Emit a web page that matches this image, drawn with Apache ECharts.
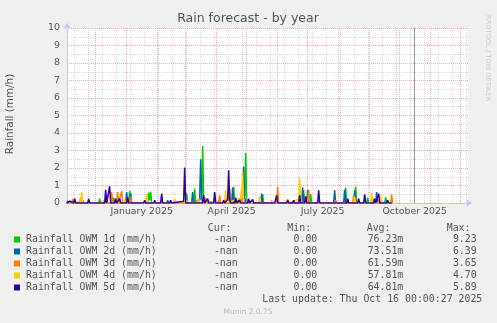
<!DOCTYPE html>
<html><head><meta charset="utf-8">
<script src="https://cdn.jsdelivr.net/npm/echarts@6/dist/echarts.min.js"></script>
<style>html,body{margin:0;padding:0;background:#f0f0f0}#c{width:497px;height:323px}</style>
</head><body><div id="c"></div>
<script>
const chartTitle = "Rain forecast - by year";
const yTitle = "Rainfall (mm/h)";
const seriesNames = ["Rainfall OWM 1d (mm/h)","Rainfall OWM 2d (mm/h)","Rainfall OWM 3d (mm/h)","Rainfall OWM 4d (mm/h)","Rainfall OWM 5d (mm/h)"];
const seriesColors = ["#00CC00","#0066B3","#FF8000","#FFCC00","#330099"];
const xRange = ["2024-11-02 08:00","2025-12-08 08:00"];
const monthStarts = ["2024-12-01","2025-01-01","2025-02-01","2025-03-01","2025-04-01","2025-05-01","2025-06-01","2025-07-01","2025-08-01","2025-09-01","2025-10-01","2025-11-01","2025-12-01"];
const minorStart = "2024-11-10";
const xLabelDates = ["2025-01-16","2025-04-16","2025-07-16","2025-10-16"];
const xLabels = ["January 2025","April 2025","July 2025","October 2025"];
const nowDate = "2025-10-16";
const legendHeaders = ["Cur:","Min:","Avg:","Max:"];
const legendCur = ["-nan","-nan","-nan","-nan","-nan"];
const legendMin = ["0.00","0.00","0.00","0.00","0.00"];
const legendAvg = ["76.23m","73.51m","61.59m","57.81m","64.81m"];
const legendMax = ["9.23","6.39","3.65","4.70","5.89"];
const lastUpdate = "Last update: Thu Oct 16 00:00:27 2025";
const footer = "Munin 2.0.75";
const sideText = "RRDTOOL / TOBI OETIKER";

const rain1d = [["2024-11-02",0.1],["2024-11-04",0],["2024-11-17",0],["2024-11-18",0.15],["2024-11-19",0],["2024-12-04",0],["2024-12-05",0.25],["2024-12-06",0],["2024-12-18",0],["2024-12-19",0.3],["2024-12-20",0],["2025-01-03",0],["2025-01-04",0.7],["2025-01-05",0.2],["2025-01-06",0],["2025-01-22",0],["2025-01-23",0.6],["2025-01-24",0.15],["2025-01-25",0.65],["2025-01-26",0],["2025-02-09",0],["2025-02-10",0.1],["2025-02-11",0],["2025-03-01",0],["2025-03-02",0.55],["2025-03-03",0],["2025-03-09",0],["2025-03-10",0.82],["2025-03-11",0],["2025-03-17",0.3],["2025-03-18",3.25],["2025-03-19",0.1],["2025-03-20",0],["2025-04-02",0],["2025-04-03",0.15],["2025-04-04",0],["2025-04-17",0],["2025-04-18",0.92],["2025-04-19",0],["2025-04-29",0.4],["2025-04-30",2.85],["2025-05-01",0.2],["2025-05-02",0],["2025-05-16",0],["2025-05-17",0.5],["2025-05-18",0],["2025-06-10",0],["2025-06-11",0.2],["2025-06-12",0],["2025-06-26",0],["2025-06-27",0.73],["2025-06-28",0],["2025-07-03",0],["2025-07-04",0.5],["2025-07-05",0],["2025-08-07",0],["2025-08-08",0.88],["2025-08-09",0],["2025-08-17",0],["2025-08-18",0.92],["2025-08-19",0],["2025-08-29",0],["2025-08-30",0.3],["2025-08-31",0],["2025-09-16",0],["2025-09-17",0.34],["2025-09-18",0],["2025-09-23",0]];
const rain2d = [["2024-11-02",0],["2024-11-14",0],["2024-11-15",0.1],["2024-11-16",0],["2024-12-11",0],["2024-12-12",0.4],["2024-12-13",0],["2024-12-31",0],["2025-01-01",0.63],["2025-01-02",0],["2025-01-04",0],["2025-01-05",0.55],["2025-01-06",0],["2025-02-10",0],["2025-02-11",0.15],["2025-02-12",0],["2025-02-21",0],["2025-02-22",0.1],["2025-02-23",0],["2025-03-07",0],["2025-03-08",0.63],["2025-03-09",0],["2025-03-15",0.2],["2025-03-16",2.5],["2025-03-17",0.3],["2025-03-18",0],["2025-04-16",0],["2025-04-17",0.88],["2025-04-18",0],["2025-04-27",0.2],["2025-04-28",2.07],["2025-04-29",0.3],["2025-04-30",0],["2025-05-15",0],["2025-05-16",0.54],["2025-05-17",0],["2025-06-25",0],["2025-06-26",0.88],["2025-06-27",0],["2025-06-30",0],["2025-07-01",0.76],["2025-07-02",0],["2025-07-19",0],["2025-07-20",0.1],["2025-07-21",0],["2025-07-27",0],["2025-07-28",0.73],["2025-07-29",0],["2025-08-06",0],["2025-08-07",0.76],["2025-08-08",0],["2025-08-16",0],["2025-08-17",0.73],["2025-08-18",0],["2025-09-07",0],["2025-09-08",0.63],["2025-09-09",0],["2025-09-23",0]];
const rain3d = [["2024-11-02",0],["2024-11-07",0],["2024-11-08",0.25],["2024-11-09",0],["2024-11-15",0],["2024-11-16",0.3],["2024-11-17",0],["2024-12-16",0],["2024-12-17",0.63],["2024-12-18",0],["2024-12-22",0],["2024-12-23",0.63],["2024-12-24",0],["2024-12-26",0],["2024-12-27",0.69],["2024-12-28",0],["2025-01-04",0],["2025-01-05",0.35],["2025-01-06",0],["2025-03-11",0],["2025-03-12",0.15],["2025-03-13",0],["2025-03-20",0],["2025-03-21",0.3],["2025-03-22",0],["2025-04-03",0],["2025-04-04",0.44],["2025-04-05",0],["2025-04-13",0],["2025-04-14",0.82],["2025-04-15",0],["2025-04-25",0],["2025-04-26",0.8],["2025-04-27",0],["2025-05-05",0],["2025-05-06",0.15],["2025-05-07",0],["2025-05-31",0],["2025-06-01",0.92],["2025-06-02",0],["2025-07-01",0],["2025-07-02",0.76],["2025-07-03",0],["2025-07-28",0],["2025-07-29",0.15],["2025-07-30",0],["2025-08-15",0],["2025-08-16",0.45],["2025-08-17",0],["2025-09-04",0],["2025-09-05",0.25],["2025-09-06",0],["2025-09-22",0],["2025-09-23",0.5],["2025-09-24",0]];
const rain4d = [["2024-11-02",0],["2024-11-16",0],["2024-11-17",0.63],["2024-11-18",0],["2024-12-08",0],["2024-12-09",0.15],["2024-12-10",0],["2024-12-29",0],["2024-12-30",0.2],["2024-12-31",0],["2025-01-20",0],["2025-01-21",0.54],["2025-01-22",0],["2025-02-17",0],["2025-02-18",0.25],["2025-02-19",0],["2025-03-01",0],["2025-03-02",0.15],["2025-03-03",0],["2025-03-13",0],["2025-03-14",0.25],["2025-03-15",0],["2025-03-23",0],["2025-03-24",0.15],["2025-03-25",0],["2025-04-09",0],["2025-04-10",0.73],["2025-04-11",0],["2025-04-26",0.3],["2025-04-27",1.8],["2025-04-28",0],["2025-05-13",0],["2025-05-14",0.38],["2025-05-15",0],["2025-05-25",0],["2025-05-26",0.15],["2025-05-27",0],["2025-06-09",0],["2025-06-10",0.19],["2025-06-11",0],["2025-06-22",0.2],["2025-06-23",1.43],["2025-06-24",0.3],["2025-06-25",0],["2025-08-16",0],["2025-08-17",0.35],["2025-08-18",0],["2025-09-02",0],["2025-09-03",0.57],["2025-09-04",0],["2025-09-11",0],["2025-09-12",0.44],["2025-09-13",0],["2025-09-23",0]];
const rain5d = [["2024-11-02",0],["2024-11-04",0],["2024-11-05",0.1],["2024-11-06",0],["2024-11-09",0],["2024-11-10",0.25],["2024-11-11",0],["2024-11-23",0],["2024-11-24",0.23],["2024-11-25",0],["2024-11-29",0],["2024-11-30",0.1],["2024-12-01",0],["2024-12-10",0],["2024-12-11",0.75],["2024-12-12",0],["2024-12-14",0],["2024-12-15",0.96],["2024-12-16",0],["2024-12-20",0],["2024-12-21",0.25],["2024-12-22",0],["2024-12-24",0],["2024-12-25",0.25],["2024-12-26",0],["2025-01-01",0],["2025-01-02",0.3],["2025-01-03",0],["2025-01-11",0],["2025-01-12",0.05],["2025-01-13",0],["2025-01-18",0],["2025-01-19",0.15],["2025-01-20",0],["2025-01-28",0],["2025-01-29",0.15],["2025-01-30",0],["2025-02-04",0],["2025-02-05",0.54],["2025-02-06",0],["2025-02-13",0],["2025-02-14",0.15],["2025-02-15",0],["2025-02-27",0.1],["2025-02-28",2.03],["2025-03-01",0],["2025-03-18",0],["2025-03-19",0.44],["2025-03-20",0],["2025-03-22",0],["2025-03-23",0.25],["2025-03-24",0],["2025-03-29",0],["2025-03-30",0.63],["2025-03-31",0],["2025-04-07",0],["2025-04-08",0.15],["2025-04-09",0],["2025-04-12",0.2],["2025-04-13",1.87],["2025-04-14",0.2],["2025-04-15",0],["2025-04-19",0],["2025-04-20",0.3],["2025-04-21",0],["2025-04-23",0],["2025-04-24",0.15],["2025-04-25",0],["2025-05-02",0],["2025-05-03",0.25],["2025-05-04",0],["2025-05-06",0],["2025-05-07",0.2],["2025-05-08",0],["2025-05-29",0],["2025-05-30",0.1],["2025-05-31",0.44],["2025-06-01",0],["2025-06-10",0],["2025-06-11",0.15],["2025-06-12",0],["2025-06-16",0],["2025-06-17",0.15],["2025-06-18",0],["2025-06-22",0],["2025-06-23",0.44],["2025-06-24",0],["2025-06-28",0],["2025-06-29",0.38],["2025-06-30",0],["2025-07-11",0],["2025-07-12",0.73],["2025-07-13",0],["2025-07-21",0],["2025-07-22",0.1],["2025-07-23",0],["2025-08-09",0],["2025-08-10",0.25],["2025-08-11",0],["2025-08-20",0],["2025-08-21",0.25],["2025-08-22",0],["2025-08-26",0],["2025-08-27",0.5],["2025-08-28",0],["2025-09-05",0],["2025-09-06",0.25],["2025-09-07",0],["2025-09-09",0],["2025-09-10",0.54],["2025-09-11",0],["2025-09-18",0],["2025-09-19",0.15],["2025-09-20",0],["2025-09-23",0]];
const allSeries = [rain1d, rain2d, rain3d, rain4d, rain5d];

function ts(s){
  const m = s.match(/(\d+)-(\d+)-(\d+)(?:\s+(\d+):(\d+))?/);
  return new Date(+m[1], +m[2]-1, +m[3], m[4]?+m[4]:0, m[5]?+m[5]:0).getTime();
}
const xMin = ts(xRange[0]), xMax = ts(xRange[1]);
const minorLines = [];
(function(){
  const m = minorStart.split('-').map(Number);
  for (let k = 0; ; k++) {
    const t = new Date(m[0], m[1]-1, m[2] + 14*k).getTime();
    if (t > xMax) break;
    minorLines.push(t);
  }
})();
const labelTs = xLabelDates.map(ts);

const txtColor = '#555';
const sans = '"DejaVu Sans", sans-serif';
const mono = '"DejaVu Sans Mono", monospace';
function T(x, y, text, font, color, align, valign, rot){
  return {type:'text', x:x, y:y, rotation: rot||0, silent:true,
    style:{text:text, font:font, fill:color, textAlign:align, textVerticalAlign:valign, align:align, verticalAlign:valign}};
}

const graphics = [];
graphics.push(T(248, 19, chartTitle, '12.5px ' + sans, txtColor, 'center', 'middle'));
graphics.push(T(10, 114, yTitle, '10.4px ' + sans, txtColor, 'center', 'middle', Math.PI/2));
graphics.push(T(487.5, 15, sideText, '6.7px ' + sans, '#cccccc', 'left', 'middle', -Math.PI/2));
const hdrX = [207.7, 287.3, 366.7, 446.7];
legendHeaders.forEach((h,i)=>graphics.push(T(hdrX[i], 228, h, '9.9px ' + mono, txtColor, 'left', 'middle')));
const colRight = [237.7, 317.3, 403.3, 476.7];
for (let i = 0; i < seriesNames.length; i++) {
  const y = 239.5 + 12*i;
  graphics.push({type:'rect', silent:true, shape:{x:14, y:y-3, width:6, height:6}, style:{fill:seriesColors[i]}});
  graphics.push(T(26, y, seriesNames[i], '9.9px ' + mono, txtColor, 'left', 'middle'));
  [legendCur[i], legendMin[i], legendAvg[i], legendMax[i]].forEach((v,j)=>
    graphics.push(T(colRight[j], y, v, '9.9px ' + mono, txtColor, 'right', 'middle')));
}
graphics.push(T(482.3, 299.7, lastUpdate, '9.9px ' + mono, txtColor, 'right', 'middle'));
graphics.push(T(248, 312.3, footer, '7.5px ' + sans, '#bbbbbb', 'center', 'middle'));

const dataSeries = allSeries.map((d,i)=>({
  name: seriesNames[i], type:'line', z:3, showSymbol:false, symbol:'none',
  lineStyle:{width:1.5, color:seriesColors[i]}, itemStyle:{color:seriesColors[i]},
  data: d.map(p=>[ts(p[0]), p[1]]), animation:false
}));

const gridSeries = [
  {type:'line', z:1, data:[], markLine:{z:1, silent:true, symbol:'none', animation:false, label:{show:false},
    lineStyle:{color:'#d8d8d8', type:[1,1], width:1}, data: minorLines.map(t=>({xAxis:t}))}},
  {type:'line', z:1, data:[], markLine:{z:1, silent:true, symbol:'none', animation:false, label:{show:false},
    lineStyle:{color:'#eeb0b0', type:[1,1], width:1}, data: monthStarts.map(s=>({xAxis:ts(s)}))}},
  {type:'line', z:2, data:[], markLine:{z:2, silent:true, symbol:'none', animation:false, label:{show:false},
    lineStyle:{color:'#9a9a9a', type:'solid', width:1}, data:[{xAxis:ts(nowDate)}]}}
];

const chart = echarts.init(document.getElementById('c'), null, {renderer:'canvas'});
chart.setOption({
  backgroundColor:'#f0f0f0',
  animation:false,
  textStyle:{fontFamily:'DejaVu Sans'},
  grid:{left:67, top:28, right:29, bottom:120, show:true, backgroundColor:'#ffffff', borderWidth:0},
  xAxis:{type:'value', min:xMin, max:xMax, scale:true,
    axisLine:{show:true, onZero:false, lineStyle:{color:'#c4c4f4', width:1}, symbol:['none','arrow'], symbolSize:[6,6], symbolOffset:[0,4]},
    axisTick:{show:false},
    splitLine:{show:false},
    axisLabel:{customValues:labelTs, color:txtColor, fontSize:9.4, fontFamily:'DejaVu Sans', margin:4, hideOverlap:false,
      formatter:function(v){ let best=0; labelTs.forEach((t,i)=>{ if(Math.abs(t-v)<Math.abs(labelTs[best]-v)) best=i; }); return xLabels[best]; }}
  },
  yAxis:{type:'value', min:0, max:10, interval:1,
    axisLine:{show:true, lineStyle:{color:'#c4c4f4', width:1}, symbol:['none','arrow'], symbolSize:[6,6], symbolOffset:[0,5]},
    axisTick:{show:false},
    axisLabel:{color:txtColor, fontSize:9.4, fontFamily:'DejaVu Sans', margin:7},
    splitLine:{show:true, lineStyle:{color:'#eeb0b0', type:[1,1], width:1}},
    minorTick:{show:false, splitNumber:2},
    minorSplitLine:{show:true, lineStyle:{color:'#d8d8d8', type:[1,1], width:1}}
  },
  series: gridSeries.concat(dataSeries),
  graphic: graphics
});
</script>
</body></html>
